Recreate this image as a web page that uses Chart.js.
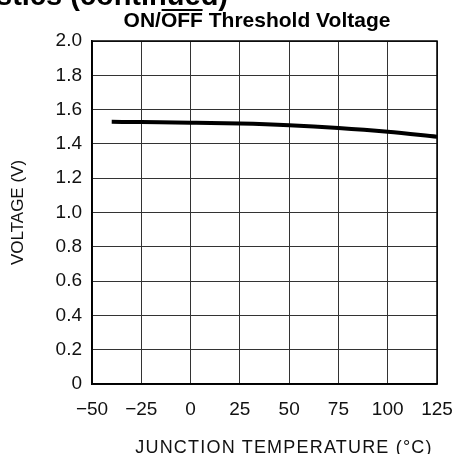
<!DOCTYPE html>
<html>
<head>
<meta charset="utf-8">
<script src="https://cdn.jsdelivr.net/npm/chart.js@4.4.1/dist/chart.umd.min.js"></script>
<style>
    html, body { margin: 0; padding: 0; background: #fff; }
    #wrap { position: relative; width: 453px; height: 454px; overflow: hidden; }
    #chart { position: absolute; left: 0; top: 0; }
    .txt { position: absolute; white-space: nowrap; color: #000; }
    #header { left: -4px; top: -19px; font: bold 29px/29px "Liberation Sans", Arial, sans-serif; }
    #title { left: 257px; top: 9px; transform: translateX(-50%); font: bold 21px/21px "Liberation Sans", Arial, sans-serif; }
    #title .bar { position: relative; }
    #title .bar::before { content: ""; position: absolute; left: 1px; right: 0; top: 1px; border-top: 2px solid #000; }
    #xtitle { left: 284px; top: 438px; transform: translateX(-50%); font: 18px/18px "Liberation Sans", Arial, sans-serif; letter-spacing: 1.2px; color: #111; }
</style>
</head>
<body>
<div id="wrap">
    <canvas id="chart" width="453" height="454"></canvas>
    <div class="txt" id="header">stics (continued)</div>
    <div class="txt" id="title">ON/<span class="bar">OFF</span> Threshold Voltage</div>
    <div class="txt" id="xtitle">JUNCTION TEMPERATURE (°C)</div>
</div>
<script>
// temperature (°C) and threshold voltage (V)
const temperatures = [-40, -25, 0, 25, 50, 75, 100, 125];
const voltages = [1.529, 1.527, 1.524, 1.519, 1.509, 1.493, 1.471, 1.442];

const xTicks = [-50, -25, 0, 25, 50, 75, 100, 125];
const yTicks = [0, 0.2, 0.4, 0.6, 0.8, 1.0, 1.2, 1.4, 1.6, 1.8, 2.0];

const tickFont = { family: '"Liberation Sans", Arial, sans-serif', size: 19 };

const ctx = document.getElementById('chart').getContext('2d');
new Chart(ctx, {
    type: 'line',
    data: {
        datasets: [{
            label: 'ON/OFF Threshold',
            data: temperatures.map((t, i) => ({ x: t, y: voltages[i] })),
            borderColor: '#000',
            borderWidth: 4,
            pointRadius: 0,
            cubicInterpolationMode: 'monotone',
            fill: false
        }]
    },
    options: {
        responsive: false,
        animation: false,
        layout: { padding: { top: 41, right: 16, left: 0, bottom: 0 } },
        plugins: {
            legend: { display: false },
            tooltip: { enabled: false }
        },
        scales: {
            x: {
                type: 'linear',
                min: -50,
                max: 125,
                afterBuildTicks: (scale) => { scale.ticks = xTicks.map(v => ({ value: v })); },
                afterFit: (scale) => {
                    scale.height = 70;
                    scale.paddingLeft = 0;
                    scale.paddingRight = 0;
                },
                ticks: {
                    color: '#111',
                    font: tickFont,
                    padding: 14,
                    maxRotation: 0,
                    callback: (v) => (v < 0 ? '\u2212' + Math.abs(v) : String(v))
                },
                grid: { color: '#333', lineWidth: 1, drawTicks: false },
                border: { color: '#000', width: 1.5 }
            },
            y: {
                min: 0,
                max: 2.0,
                afterBuildTicks: (scale) => { scale.ticks = yTicks.map(v => ({ value: v })); },
                afterFit: (scale) => {
                    scale.width = 92;
                    scale.paddingTop = 0;
                    scale.paddingBottom = 0;
                },
                ticks: {
                    color: '#111',
                    font: tickFont,
                    padding: 10,
                    callback: (v) => (v === 0 ? '0' : v.toFixed(1))
                },
                grid: { color: '#333', lineWidth: 1, drawTicks: false },
                border: { color: '#000', width: 1.5 },
                title: {
                    display: true,
                    text: 'VOLTAGE (V)',
                    color: '#111',
                    font: { family: '"Liberation Sans", Arial, sans-serif', size: 17 },
                    padding: { top: 8, bottom: 10 }
                }
            }
        }
    },
    plugins: [{
        id: 'frame',
        afterDraw(chart) {
            const { ctx: c, chartArea: a } = chart;
            c.save();
            c.strokeStyle = '#000';
            c.lineWidth = 1.5;
            c.strokeRect(a.left, a.top, a.right - a.left, a.bottom - a.top);
            c.restore();
        }
    }]
});
</script>
</body>
</html>
